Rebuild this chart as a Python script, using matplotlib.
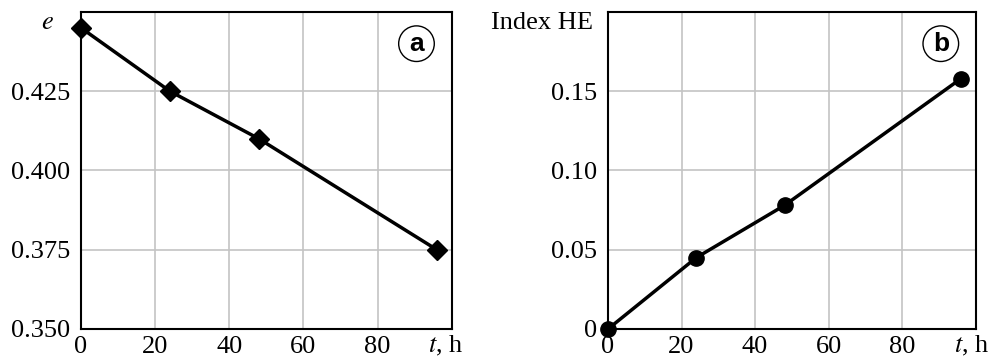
import matplotlib.pyplot as plt

plt.rcParams['font.family'] = 'Liberation Serif'
plt.rcParams['mathtext.fontset'] = 'stix'

# data
t_a = [0, 24, 48, 96]
e_vals = [0.445, 0.425, 0.410, 0.375]

t_b = [0, 24, 48, 96]
he_vals = [0.0, 0.045, 0.078, 0.158]

x_ticks = [0, 20, 40, 60, 80, 100]
x_labels = ['0', '20', '40', '60', '80', '']
a_ticks = [0.350, 0.375, 0.400, 0.425, 0.450]
a_labels = ['0.350', '0.375', '0.400', '0.425', '']
b_ticks = [0, 0.05, 0.10, 0.15, 0.20]
b_labels = ['0', '0.05', '0.10', '0.15', '']

fig = plt.figure(figsize=(10.02, 3.62), dpi=100)
ax1 = fig.add_axes([0.0808, 0.0912, 0.370, 0.8757])
ax2 = fig.add_axes([0.6068, 0.0912, 0.367, 0.8757])

fs = 19

def style(ax, yt, yl, ylim, th_x):
    ax.set_xlim(0, 100)
    ax.set_ylim(*ylim)
    ax.set_xticks(x_ticks)
    ax.set_xticklabels(x_labels)
    ax.set_yticks(yt)
    ax.set_yticklabels(yl)
    ax.tick_params(length=0, labelsize=fs)
    ax.tick_params(axis='y', pad=8)
    ax.tick_params(axis='x', pad=5)
    ax.grid(True, color='#c4c4c4', lw=1.2)
    ax.set_axisbelow(True)
    for s in ax.spines.values():
        s.set_linewidth(1.5)
        s.set_color('black')
    ax.text(th_x, -0.053, r'$t$, h', transform=ax.transAxes, ha='right', va='center', fontsize=fs)

style(ax1, a_ticks, a_labels, (0.350, 0.450), 1.03)
style(ax2, b_ticks, b_labels, (0, 0.20), 1.038)

ax1.plot(t_a, e_vals, color='black', lw=2.5, marker='D', ms=10, clip_on=False, zorder=3)
ax2.plot(t_b, he_vals, color='black', lw=2.5, marker='o', ms=11, clip_on=False, zorder=3)

ax1.text(-0.09, 0.965, r'$e$', transform=ax1.transAxes, ha='center', va='center', fontsize=fs)
ax2.text(-0.04, 0.965, 'Index HE', transform=ax2.transAxes, ha='right', va='center', fontsize=fs)

for ax, lab in [(ax1, 'a'), (ax2, 'b')]:
    ax.text(0.905, 0.9, lab, transform=ax.transAxes, ha='center', va='center',
            fontsize=19, fontweight='bold', family='Liberation Sans',
            bbox=dict(boxstyle='circle,pad=0.22', fc='white', ec='black', lw=1.0))

fig.savefig('out.png', dpi=100)
